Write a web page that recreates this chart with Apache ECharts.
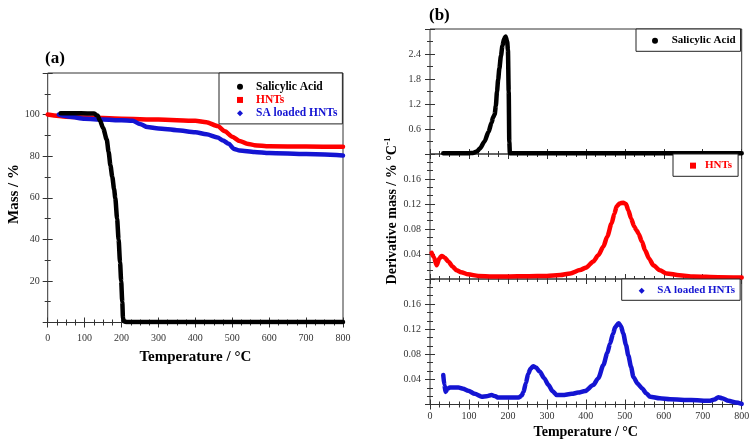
<!DOCTYPE html>
<html>
<head>
<meta charset="utf-8">
<script src="https://cdn.jsdelivr.net/npm/echarts@6/dist/echarts.min.js"></script>
<style>html,body{margin:0;padding:0;background:#fff}#c{width:754px;height:443px}</style>
</head>
<body>
<div id="c"></div>
<script>
// ---------- Data ----------
// Panel (a): TGA mass (%)
const tempA_SA   = [35, 60, 90, 125, 135, 142, 150, 160, 165, 170, 175, 180, 183, 188, 192, 196, 199, 202, 204, 207, 215, 400, 600, 800];
const massSA     = [100.6, 100.6, 100.6, 100.5, 99.5, 97, 93.5, 88, 82, 75.5, 70, 64, 60, 50, 40, 29, 20, 10, 2, 0.5, 0.2, 0.2, 0.2, 0.2];
const tempA_HNT  = [0, 50, 100, 200, 300, 400, 430, 460, 480, 500, 520, 540, 560, 600, 700, 800];
const massHNT    = [100, 99, 98.6, 98, 97.6, 97, 96.3, 94.5, 92, 89.3, 87.3, 86, 85.3, 84.8, 84.6, 84.5];
const tempA_SAH  = [30, 60, 100, 150, 200, 230, 250, 270, 300, 350, 400, 430, 460, 475, 490, 505, 520, 560, 600, 700, 800];
const massSAH    = [100, 99, 98, 97.6, 97.3, 97, 95.5, 94, 93.3, 92.5, 91.5, 90.5, 89, 87.5, 86, 83.5, 82.7, 82, 81.5, 81, 80.3];

// Panel (b): derivative mass (% / °C)
const tempB_SA   = [34, 60, 100, 110, 120, 128, 140, 150, 158, 162, 166, 169, 172, 175, 178, 182, 186, 190, 194, 198, 200, 202, 203.5, 205, 250, 400, 600, 800];
const dtgSA      = [0.02, 0.02, 0.02, 0.025, 0.06, 0.13, 0.3, 0.53, 0.75, 0.88, 0.95, 1.16, 1.5, 1.79, 2.05, 2.35, 2.6, 2.76, 2.82, 2.7, 2.5, 1.5, 0.3, 0.02, 0.02, 0.02, 0.02, 0.02];
const tempB_HNT  = [4, 10, 17, 24, 30, 38, 47, 58, 68, 80, 98, 124, 160, 200, 250, 300, 334, 360, 385, 400, 419, 432, 445, 455, 466, 473, 479, 487, 496, 503, 509, 516, 524, 530, 535, 544, 552, 562, 573, 590, 607, 640, 676, 740, 800];
const dtgHNT     = [0.042, 0.035, 0.022, 0.033, 0.037, 0.034, 0.028, 0.02, 0.014, 0.011, 0.0075, 0.005, 0.004, 0.004, 0.0045, 0.005, 0.0064, 0.009, 0.0144, 0.018, 0.028, 0.038, 0.052, 0.068, 0.089, 0.104, 0.116, 0.121, 0.122, 0.12, 0.11, 0.097, 0.084, 0.078, 0.073, 0.06, 0.046, 0.033, 0.022, 0.014, 0.009, 0.006, 0.004, 0.003, 0.0025];
const tempB_SAH  = [34, 37, 40, 45, 51, 73, 85, 98, 115, 133, 145, 158, 168, 175, 200, 227, 235, 240, 246, 252, 258, 265, 272, 282, 293, 304, 315, 325, 340, 364, 380, 398, 419, 432, 445, 455, 462, 470, 475, 484, 490, 496, 503, 509, 516, 522, 533, 544, 555, 565, 590, 616, 670, 719, 730, 740, 750, 766, 785, 800];
const dtgSAH     = [0.047, 0.031, 0.02, 0.025, 0.027, 0.027, 0.025, 0.022, 0.017, 0.0125, 0.013, 0.015, 0.013, 0.011, 0.011, 0.011, 0.014, 0.02, 0.034, 0.049, 0.057, 0.061, 0.059, 0.052, 0.042, 0.031, 0.021, 0.015, 0.015, 0.017, 0.019, 0.0215, 0.031, 0.042, 0.063, 0.082, 0.097, 0.113, 0.123, 0.1295, 0.125, 0.113, 0.095, 0.078, 0.06, 0.044, 0.033, 0.026, 0.018, 0.0125, 0.01, 0.0084, 0.007, 0.006, 0.008, 0.0115, 0.01, 0.006, 0.003, 0.001];

const xTicksA = [0, 100, 200, 300, 400, 500, 600, 700, 800];
const nameSA = 'Salicylic Acid', nameHNT = 'HNTs', nameSAH = 'SA loaded HNTs';

// ---------- Style ----------
const SERIF = "'Liberation Serif', 'Times New Roman', serif";
const C_BLACK = '#000000', C_RED = '#ff0000', C_BLUE = '#1414d2';
const lblStyle = { fontFamily: SERIF, fontSize: 10, color: '#333' };

function pairs(xs, ys) { return xs.map((x, i) => [x, ys[i]]); }

function xAx(gi, pos, showLabel, margin) {
  return {
    type: 'value', gridIndex: gi, position: pos, min: 0, max: 800, interval: 100,
    axisLine: { show: false },
    axisTick: { show: true, inside: true, length: 5, lineStyle: { color: '#333' } },
    minorTick: { show: true, splitNumber: 4, length: 3, lineStyle: { color: '#333' } },
    splitLine: { show: false }, minorSplitLine: { show: false },
    axisLabel: { show: showLabel, margin: margin, ...lblStyle }
  };
}
function yAx(gi, pos, min, max, interval, minorSplit, fmt, margin) {
  return {
    type: 'value', gridIndex: gi, position: pos, min: min, max: max, interval: interval,
    axisLine: { show: false },
    axisTick: { show: true, inside: true, length: 5, lineStyle: { color: '#333' } },
    minorTick: { show: true, splitNumber: minorSplit, length: 3, lineStyle: { color: '#333' } },
    splitLine: { show: false }, minorSplitLine: { show: false },
    axisLabel: { show: !!fmt, formatter: fmt, margin: margin || 8, ...lblStyle }
  };
}
const fmtA = v => (v <= 0 || v >= 120) ? '' : String(v);
const fmtB1 = v => (v <= 0 || v >= 2.99) ? '' : v.toFixed(1);
const fmtB2 = v => (v <= 0.001 || v >= 0.199) ? '' : v.toFixed(2);

function lineSeries(name, data, color, xi, yi, w) {
  return {
    type: 'line', name: name, data: data, xAxisIndex: xi, yAxisIndex: yi,
    symbol: 'none', smooth: 0.25, smoothMonotone: 'x', color: color,
    itemStyle: { color: color },
    lineStyle: { color: color, width: w, cap: 'round', join: 'round' },
    animation: false
  };
}

const gridCommon = { show: true, borderColor: '#333', borderWidth: 1, backgroundColor: 'transparent' };

function legendBox(left, top, items, padding, fontSize) {
  return {
    left: left, top: top, orient: 'vertical', itemGap: 0, itemWidth: 6, itemHeight: 6,
    selectedMode: false,
    backgroundColor: '#fff', borderColor: '#222', borderWidth: 1, borderRadius: 0,
    padding: padding,
    data: items.map(it => ({
      name: it.name, icon: it.icon,
      itemStyle: { color: it.color },
      textStyle: { color: it.color, fontFamily: SERIF, fontWeight: 'bold', fontSize: fontSize, lineHeight: 13.3, padding: [0, 0, 0, it.pad] }
    }))
  };
}

const option = {
  animation: false,
  backgroundColor: '#fff',
  grid: [
    { left: 47.7, top: 73, width: 295.3, height: 249.5, ...gridCommon },
    { left: 430, top: 29, width: 311.7, height: 125, ...gridCommon },
    { left: 430, top: 154, width: 311.7, height: 125, ...gridCommon },
    { left: 430, top: 279, width: 311.7, height: 125.5, ...gridCommon }
  ],
  xAxis: [
    xAx(0, 'bottom', true, 11), xAx(0, 'top', false, 8),
    xAx(1, 'bottom', false, 8), xAx(1, 'top', false, 8),
    xAx(2, 'bottom', false, 8), xAx(2, 'top', false, 8),
    xAx(3, 'bottom', true, 7), xAx(3, 'top', false, 8)
  ],
  yAxis: [
    yAx(0, 'left', 0, 120, 20, 2, fmtA, 8), yAx(0, 'right', 0, 120, 20, 2, null),
    yAx(1, 'left', 0, 3.0, 0.6, 2, fmtB1, 9), yAx(1, 'right', 0, 3.0, 0.6, 2, null),
    yAx(2, 'left', 0, 0.2, 0.04, 3, fmtB2, 9), yAx(2, 'right', 0, 0.2, 0.04, 3, null),
    yAx(3, 'left', 0, 0.2, 0.04, 3, fmtB2, 9), yAx(3, 'right', 0, 0.2, 0.04, 3, null)
  ],
  legend: [
    legendBox(219, 73, [
      { name: nameSA, icon: 'circle', color: C_BLACK, pad: 8 },
      { name: nameHNT, icon: 'rect', color: C_RED, pad: 8 },
      { name: nameSAH, icon: 'diamond', color: C_BLUE, pad: 8 }
    ], [7, 5, 4, 18], 11.5),
    legendBox(636, 29, [{ name: nameSA, icon: 'circle', color: C_BLACK, pad: 8.7 }], [5, 5, 4, 16], 11),
    legendBox(673, 154, [{ name: nameHNT, icon: 'rect', color: C_RED, pad: 4 }], [5, 6, 4, 17], 11),
    legendBox(621.7, 279, [{ name: nameSAH, icon: 'diamond', color: C_BLUE, pad: 7.6 }], [5, 5, 3, 17], 11)
  ],
  series: [
    lineSeries(nameHNT, pairs(tempA_HNT, massHNT), C_RED, 0, 0, 4.5),
    lineSeries(nameSAH, pairs(tempA_SAH, massSAH), C_BLUE, 0, 0, 4.5),
    lineSeries(nameSA, pairs(tempA_SA, massSA), C_BLACK, 0, 0, 4.5),
    lineSeries(nameSA, pairs(tempB_SA, dtgSA), C_BLACK, 2, 2, 4.5),
    lineSeries(nameHNT, pairs(tempB_HNT, dtgHNT), C_RED, 4, 4, 4.5),
    lineSeries(nameSAH, pairs(tempB_SAH, dtgSAH), C_BLUE, 6, 6, 4.5)
  ],
  graphic: [
    { type: 'text', left: 45, top: 50, style: { text: '(a)', fontFamily: SERIF, fontWeight: 'bold', fontSize: 17, fill: '#000' } },
    { type: 'text', left: 429, top: 7, style: { text: '(b)', fontFamily: SERIF, fontWeight: 'bold', fontSize: 17, fill: '#000' } },
    { type: 'text', x: 195.3, y: 357, style: { text: 'Temperature / °C', fontFamily: SERIF, fontWeight: 'bold', fontSize: 15, fill: '#000', align: 'center', verticalAlign: 'middle' } },
    { type: 'text', x: 585.8, y: 432, style: { text: 'Temperature / °C', fontFamily: SERIF, fontWeight: 'bold', fontSize: 14, fill: '#000', align: 'center', verticalAlign: 'middle' } },
    { type: 'text', x: 14, y: 194, rotation: Math.PI / 2, style: { text: 'Mass / %', fontFamily: SERIF, fontWeight: 'bold', fontSize: 15, fill: '#000', align: 'center', verticalAlign: 'middle' } },
    { type: 'text', x: 392, y: 211, rotation: Math.PI / 2, style: {
        text: 'Derivative mass / % °C{sup|-1}', fontFamily: SERIF, fontWeight: 'bold', fontSize: 14, fill: '#000', align: 'center', verticalAlign: 'middle',
        rich: { sup: { fontFamily: SERIF, fontWeight: 'bold', fontSize: 9, fill: '#000', padding: [0, 0, 9, 0] } } } }
  ]
};

const chart = echarts.init(document.getElementById('c'), null, { renderer: 'canvas' });
chart.setOption(option);
</script>
</body>
</html>
